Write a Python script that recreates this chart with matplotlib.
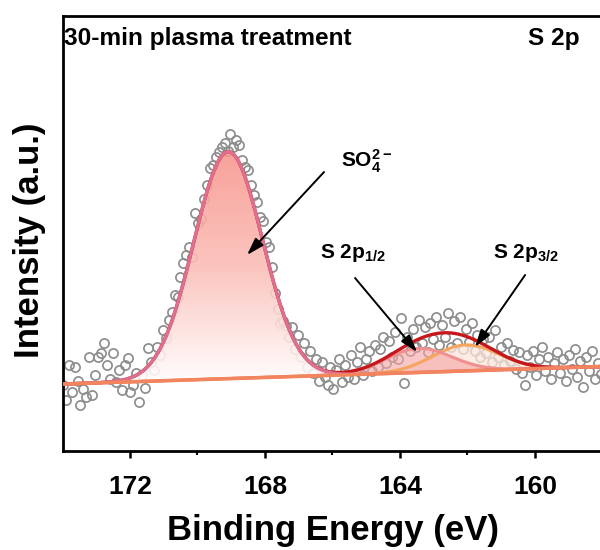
import numpy as np
import matplotlib
matplotlib.use('Agg')
import matplotlib.pyplot as plt
from matplotlib.colors import LinearSegmentedColormap

plt.rcParams['font.family'] = ['Liberation Sans', 'DejaVu Sans']
plt.rcParams['font.weight'] = 'bold'
plt.rcParams['mathtext.fontset'] = 'custom'
plt.rcParams['mathtext.rm'] = 'Liberation Sans:bold'
plt.rcParams['mathtext.bf'] = 'Liberation Sans:bold'
plt.rcParams['mathtext.it'] = 'Liberation Sans:bold:italic'
plt.rcParams['mathtext.default'] = 'bf'

# ---------------- data ----------------
E_START, E_END = 173.99, 158.04          # measured energy range (eV), uniform step
counts = [
    62, 47, 82, 55, 80, 66, 42, 58, 50, 90,
    52, 72, 90, 94, 104, 82, 68, 94, 65, 77,
    57, 82, 89, 55, 62, 74, 45, 72, 59, 99,
    85, 77, 100, 92, 117, 109, 127,
    135, 152, 150, 170, 184, 192, 200, 190, 234, 224,
    228, 248, 262, 279, 282, 290, 295, 300, 304, 296,
    313, 300, 307, 302, 287, 280, 277, 262, 252, 245,
    230, 226, 205, 200, 180, 154, 138, 124, 126, 121,
    110, 120, 98, 112, 90, 104, 80, 96, 74, 88,
    66, 85, 70, 62, 80, 58, 77, 88, 65, 82,
    70, 92, 68, 85, 100, 72, 88, 96, 76, 102,
    80, 98, 110, 84, 106, 90, 115, 88, 129, 64,
    110, 96, 118, 100, 127, 104, 120, 95, 124, 108,
    130, 102, 122, 110, 134, 100, 126, 104, 130, 98,
    118, 105, 124, 96, 112, 90, 108, 94, 110, 85,
    117, 90, 100, 82, 104, 86, 97, 78, 95, 74,
    62, 92, 80, 96, 72, 88, 100, 76, 90, 68,
    84, 95, 74, 88, 66, 92, 78, 98, 70, 86,
    60, 90, 76, 96, 68, 84, 73,
]
energy = np.linspace(E_START, E_END, len(counts))

# linear background (end points)
baseline_E = [157.4, 174.6]
baseline_I = [81.2, 62.3]

# fitted components (Gaussian parameters)
peak_labels = ['SO4', 'S 2p1/2', 'S 2p3/2']
peak_centers = [169.09, 163.44, 162.05]
peak_sigmas = [1.02, 0.976, 0.976]
peak_heights = [227.0, 24.0, 26.0]

x_ticks = [172, 168, 164, 160]
x_minor = [170, 166, 162]


def gauss(e, c, s, h):
    return h * np.exp(-(e - c) ** 2 / (2 * s ** 2))


# ---------------- figure ----------------
fig = plt.figure(figsize=(6, 5.5), dpi=100)
ax = fig.add_axes([62.5 / 600, 99 / 550, 537.5 / 600, 435 / 550])

e_fit = np.linspace(174.6, 157.4, 900)
base = np.interp(e_fit, baseline_E, baseline_I)
so4 = gauss(e_fit, peak_centers[0], peak_sigmas[0], peak_heights[0])
p12 = gauss(e_fit, peak_centers[1], peak_sigmas[1], peak_heights[1])
p32 = gauss(e_fit, peak_centers[2], peak_sigmas[2], peak_heights[2])
envelope = base + so4 + p12 + p32

# raw data
ax.plot(energy, counts, 'o', mfc='none', mec='#8e8e8e', ms=6.6, mew=1.25,
        zorder=1)

# SO4 gradient fill
cmap = LinearSegmentedColormap.from_list('g', ['#FFFFFF', '#FBBFB8', '#F8978E'])
poly = ax.fill_between(e_fit, base, base + so4, facecolor='none',
                       edgecolor='none', zorder=2)
grad = np.linspace(0, 1, 256).reshape(-1, 1)
im = ax.imshow(grad, cmap=cmap, origin='lower', aspect='auto',
               extent=[174.6, 157.4, base.min(), (base + so4).max()],
               alpha=0.9, zorder=2, interpolation='bilinear')
im.set_clip_path(poly.get_paths()[0], transform=ax.transData)

# doublet fills
ax.fill_between(e_fit, base, base + p32, color='#FDE6DA', alpha=0.75,
                lw=0, zorder=2)
ax.fill_between(e_fit, base, base + p12, color='#F5A3A3', alpha=0.6,
                lw=0, zorder=2.1)

# lines
ax.plot(e_fit, base + p32, color='#F6A55E', lw=2.2, zorder=2.9)
ax.plot(e_fit, base + p12, color='#F09090', lw=2.2, zorder=2.9)
ax.plot(e_fit, envelope, color='#C8161D', lw=2.4, zorder=3.0)
ax.plot(e_fit, base + so4, color='#DD6F8F', lw=2.4, zorder=3.2)
ax.plot(e_fit, base, color='#F2845E', lw=2.6, zorder=3.4)


def px2data(x, y):
    return 172 - (x - 130) / 33.73, 447 - y


arrow_kw = dict(arrowstyle='-|>,head_length=0.7,head_width=0.22',
                color='black', lw=1.4, mutation_scale=15,
                shrinkA=0, shrinkB=0)
ax.annotate('', xy=px2data(247, 255), xytext=px2data(324, 172),
            arrowprops=arrow_kw, zorder=5)
ax.annotate('', xy=px2data(417, 352), xytext=px2data(355, 278),
            arrowprops=arrow_kw, zorder=5)
ax.annotate('', xy=px2data(475, 347), xytext=px2data(525, 275),
            arrowprops=arrow_kw, zorder=5)

ax.text(*px2data(341, 167), r'SO$_4^{2-}$', fontsize=15, ha='left',
        va='baseline', zorder=6)
ax.text(*px2data(320, 258), r'S 2p$_{1/2}$', fontsize=15, ha='left',
        va='baseline', zorder=6)
ax.text(*px2data(493, 258), r'S 2p$_{3/2}$', fontsize=15, ha='left',
        va='baseline', zorder=6)

fig.text(64 / 600, 1 - 45 / 550, '30-min plasma treatment', fontsize=17.6,
         ha='left', va='baseline')
fig.text(580 / 600, 1 - 45 / 550, 'S 2p', fontsize=17.6, ha='right',
         va='baseline')

fig.text(30 / 600, 1 - 240 / 550, 'Intensity (a.u.)', fontsize=25,
         rotation=90, ha='center', va='center')
fig.text(333 / 600, 1 - 540 / 550, 'Binding Energy (eV)', fontsize=25,
         ha='center', va='baseline')

ax.set_xlim(174.0, 158.07)
ax.set_ylim(-4, 431)
ax.set_xticks(x_ticks)
ax.set_xticklabels([str(t) for t in x_ticks])
ax.set_xticks(x_minor, minor=True)
ax.set_yticks([])
ax.tick_params(axis='x', which='major', direction='out', length=5,
               width=1.8, labelsize=19, pad=12)
ax.tick_params(axis='x', which='minor', direction='out', length=3,
               width=1.5)
for side in ['left', 'top', 'bottom']:
    ax.spines[side].set_linewidth(2.0)
ax.spines['right'].set_visible(False)

fig.savefig('out.png', dpi=100)
